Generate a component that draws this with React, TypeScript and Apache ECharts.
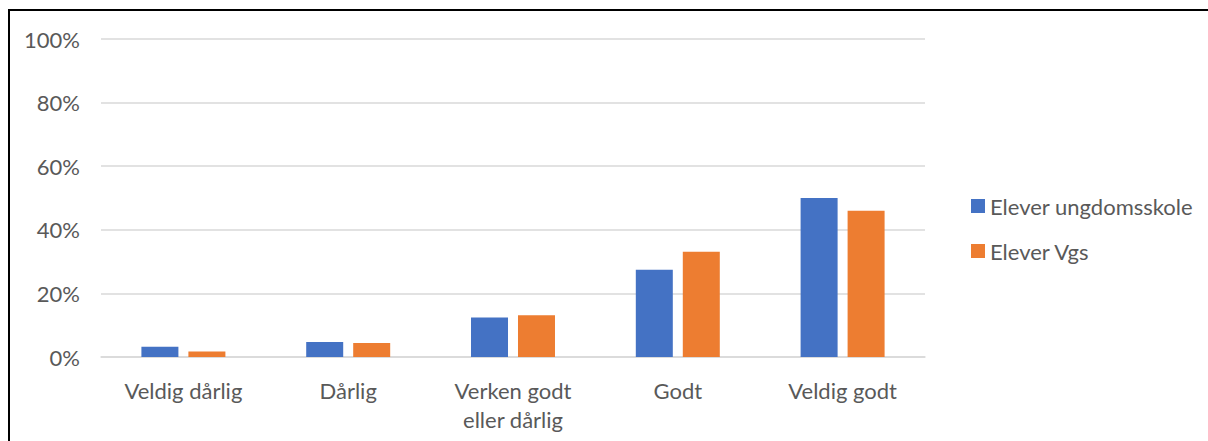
import React, { useEffect, useRef } from "react";
import * as echarts from "echarts";

const categories = ["Veldig dårlig", "Dårlig", "Verken godt\neller dårlig", "Godt", "Veldig godt"];
const seriesNames = ["Elever ungdomsskole", "Elever Vgs"];
const ungdomsskole = [3.2, 4.7, 12.4, 27.4, 50.0];
const vgs = [1.7, 4.4, 13.1, 33.1, 46.0];
const yTicks = [0, 20, 40, 60, 80, 100];

const FONT = "Lato, 'Open Sans', sans-serif";
const TXT = "#595959";
const FS = 22;

export default function App() {
  const ref = useRef<HTMLDivElement>(null);
  useEffect(() => {
    if (!ref.current) return;
    document.body.style.overflow = "hidden";
    const chart = echarts.init(ref.current, null, { renderer: "svg" });
    chart.setOption({
      animation: false,
      backgroundColor: "#fff",
      textStyle: { fontFamily: FONT },
      grid: { left: 101, right: 283, top: 39, bottom: 84, containLabel: false },
      graphic: [
        { type: "line", shape: { x1: 9, y1: 10, x2: 1208, y2: 10 }, style: { stroke: "#000", lineWidth: 2 } },
        { type: "line", shape: { x1: 9, y1: 9, x2: 9, y2: 441 }, style: { stroke: "#000", lineWidth: 2 } },
      ],
      legend: {
        orient: "vertical",
        left: 966,
        top: 190,
        itemWidth: 14,
        itemHeight: 14,
        itemGap: 23,
        icon: "rect",
        textStyle: { fontSize: FS, color: TXT, fontFamily: FONT },
        data: seriesNames,
      },
      xAxis: {
        type: "category",
        data: categories,
        axisLine: { show: true, lineStyle: { color: "#d9d9d9", width: 1.5 } },
        axisTick: { show: false },
        axisLabel: {
          color: TXT,
          fontSize: FS,
          fontFamily: FONT,
          margin: 19,
          lineHeight: 29,
          interval: 0,
        },
      },
      yAxis: {
        type: "value",
        min: yTicks[0],
        max: yTicks[yTicks.length - 1],
        interval: 20,
        axisLine: { show: false },
        axisTick: { show: false },
        splitLine: { lineStyle: { color: "#d9d9d9", width: 1.5 } },
        axisLabel: {
          color: TXT,
          fontSize: FS,
          fontFamily: FONT,
          margin: 21,
          formatter: (v: number) => `${v}%`,
        },
      },
      series: [
        {
          name: seriesNames[0],
          type: "bar",
          data: ungdomsskole,
          barWidth: 37,
          barGap: "27%",
          itemStyle: { color: "#4472C4" },
        },
        {
          name: seriesNames[1],
          type: "bar",
          data: vgs,
          barWidth: 37,
          barGap: "27%",
          itemStyle: { color: "#ED7D31" },
        },
      ],
    });
    return () => chart.dispose();
  }, []);
  return (
    <div
      ref={ref}
      style={{ position: "fixed", left: 0, top: 0, width: 1208, height: 441 }}
    />
  );
}
